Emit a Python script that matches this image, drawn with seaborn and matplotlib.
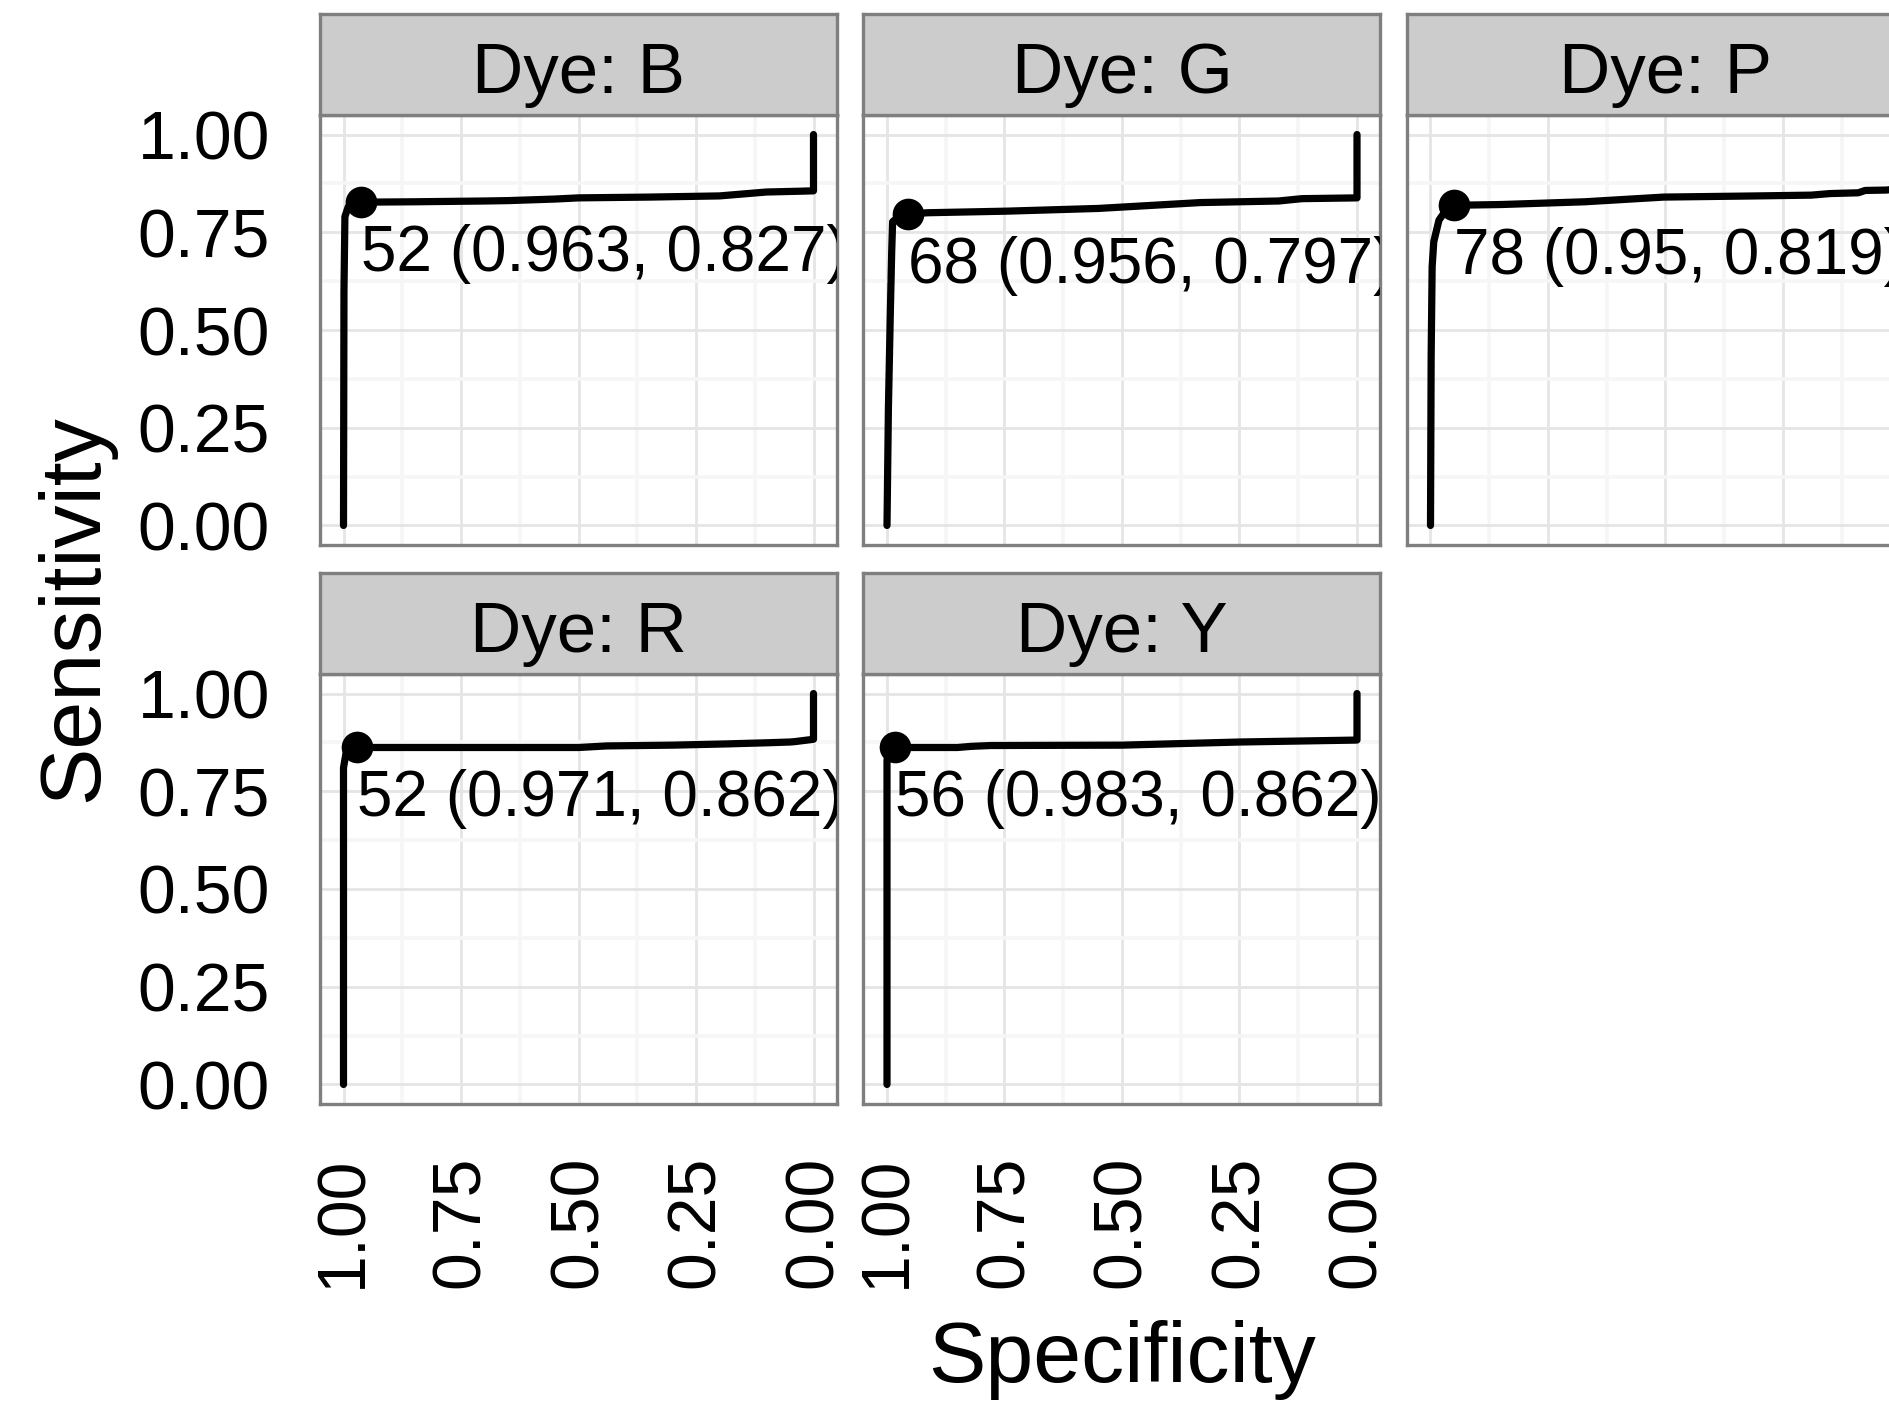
import numpy as np
import pandas as pd
import matplotlib
matplotlib.use("Agg")
import matplotlib.pyplot as plt
import matplotlib.transforms as mtransforms
from matplotlib.ticker import FixedLocator
import seaborn as sns

# ---------------- data ----------------
dyes = ["B", "G", "P", "R", "Y"]

spec_B = [1.0, 0.999, 0.997, 0.99, 0.98, 0.963, 0.85, 0.70, 0.65, 0.55, 0.50, 0.35, 0.20, 0.13, 0.10, 0.03, 0.0, 0.0]
sens_B = [0.0, 0.60, 0.79, 0.815, 0.823, 0.827, 0.828, 0.830, 0.831, 0.835, 0.838, 0.840, 0.843, 0.850, 0.853, 0.855, 0.856, 1.0]

spec_G = [1.0, 0.997, 0.993, 0.99, 0.988, 0.975, 0.956, 0.912, 0.746, 0.55, 0.521, 0.333, 0.167, 0.117, 0.0, 0.0]
sens_G = [0.0, 0.30, 0.54, 0.70, 0.777, 0.790, 0.797, 0.800, 0.804, 0.811, 0.813, 0.826, 0.830, 0.836, 0.838, 1.0]

spec_P = [1.0, 0.9986, 0.9965, 0.993, 0.982, 0.965, 0.95, 0.849, 0.672, 0.504, 0.306, 0.19, 0.15, 0.09, 0.075, 0.03, 0.0, 0.0]
sens_P = [0.0, 0.434, 0.662, 0.726, 0.781, 0.810, 0.819, 0.821, 0.828, 0.840, 0.843, 0.845, 0.849, 0.851, 0.857, 0.858, 0.862, 1.0]

spec_R = [1.0, 1.0, 0.995, 0.985, 0.971, 0.80, 0.50, 0.47, 0.44, 0.30, 0.19, 0.10, 0.05, 0.04, 0.02, 0.0, 0.0]
sens_R = [0.0, 0.81, 0.845, 0.856, 0.862, 0.862, 0.862, 0.864, 0.866, 0.868, 0.871, 0.874, 0.876, 0.877, 0.880, 0.883, 1.0]

spec_Y = [1.0, 1.0, 0.993, 0.983, 0.85, 0.82, 0.78, 0.50, 0.25, 0.10, 0.0, 0.0]
sens_Y = [0.0, 0.83, 0.855, 0.862, 0.862, 0.865, 0.867, 0.868, 0.876, 0.879, 0.881, 1.0]

best_threshold = [52, 68, 78, 52, 56]
best_spec = [0.963, 0.956, 0.95, 0.971, 0.983]
best_sens = [0.827, 0.797, 0.819, 0.862, 0.862]

tick_values = [0.0, 0.25, 0.5, 0.75, 1.0]
tick_labels = ["0.00", "0.25", "0.50", "0.75", "1.00"]

curves = {
    "B": (spec_B, sens_B), "G": (spec_G, sens_G), "P": (spec_P, sens_P),
    "R": (spec_R, sens_R), "Y": (spec_Y, sens_Y),
}
roc_df = pd.concat(
    [pd.DataFrame({"Dye": d, "Specificity": curves[d][0], "Sensitivity": curves[d][1]})
     for d in dyes],
    ignore_index=True)
best_df = pd.DataFrame({"Dye": dyes, "threshold": best_threshold,
                        "Specificity": best_spec, "Sensitivity": best_sens})

# ---------------- style ----------------
sns.set_style("white")
plt.rcParams["font.family"] = ["Liberation Sans", "DejaVu Sans"]

W, H = 1890, 1403
DPI = 100
fig = plt.figure(figsize=(W / DPI, H / DPI), dpi=DPI)

col_left = [320, 863.5, 1407]
panel_w = 517
row_top = [115, 674]
panel_h = 430
strip_h = 101

TICK_FS = 49
STRIP_FS = 51
ANNOT_FS = 46
TITLE_FS = 62
GRID_MAJ = "#E5E5E5"
GRID_MIN = "#F6F6F6"
BORDER = "#7F7F7F"


def fig_rect(x0, y0_top, w, h):
    return [x0 / W, 1 - (y0_top + h) / H, w / W, h / H]


for i, d in enumerate(dyes):
    r, c = divmod(i, 3)
    x0 = col_left[c]
    y0 = row_top[r]
    ax = fig.add_axes(fig_rect(x0, y0, panel_w, panel_h))
    sub = roc_df[roc_df["Dye"] == d]
    sns.lineplot(data=sub, x="Specificity", y="Sensitivity", sort=False, estimator=None,
                 color="black", linewidth=5.2, ax=ax, legend=False,
                 solid_capstyle="round", solid_joinstyle="round", zorder=3)
    bsub = best_df[best_df["Dye"] == d]
    sns.scatterplot(data=bsub, x="Specificity", y="Sensitivity", color="black", s=520,
                    linewidth=0, ax=ax, legend=False, zorder=4)
    row = bsub.iloc[0]
    label = f"{row['threshold']} ({row['Specificity']:g}, {row['Sensitivity']:g})"
    off = mtransforms.offset_copy(ax.transData, fig=fig, x=0, y=-22, units="dots")
    ax.text(row["Specificity"], row["Sensitivity"], label, transform=off,
            ha="left", va="top", fontsize=ANNOT_FS, color="black", clip_on=True, zorder=5)

    ax.set_xlim(1.05, -0.05)
    ax.set_ylim(-0.05, 1.05)
    ax.xaxis.set_major_locator(FixedLocator(tick_values))
    ax.yaxis.set_major_locator(FixedLocator(tick_values))
    ax.xaxis.set_minor_locator(FixedLocator([0.125, 0.375, 0.625, 0.875]))
    ax.yaxis.set_minor_locator(FixedLocator([0.125, 0.375, 0.625, 0.875]))
    ax.set_xticklabels(tick_labels, rotation=90)
    ax.set_yticklabels(tick_labels)
    ax.grid(True, which="major", color=GRID_MAJ, lw=2.0, zorder=0)
    ax.grid(True, which="minor", color=GRID_MIN, lw=2.6, zorder=0)
    ax.set_axisbelow(True)
    ax.set_xlabel("")
    ax.set_ylabel("")
    for sp in ax.spines.values():
        sp.set_color(BORDER)
        sp.set_linewidth(2.4)
        sp.set_visible(True)
    ax.tick_params(axis="both", which="major", length=21, width=3.6, color="black",
                   labelsize=TICK_FS, labelcolor="black")
    ax.tick_params(axis="x", pad=16)
    ax.tick_params(axis="y", pad=15)
    ax.tick_params(axis="both", which="minor", length=0)
    if c != 0:
        ax.tick_params(axis="y", left=False, labelleft=False)
    if r == 0:
        ax.tick_params(axis="x", bottom=False, labelbottom=False)

    # strip
    sax = fig.add_axes(fig_rect(x0, y0 - strip_h, panel_w, strip_h))
    sax.set_facecolor("#CCCCCC")
    sax.set_xticks([])
    sax.set_yticks([])
    for sp in sax.spines.values():
        sp.set_color(BORDER)
        sp.set_linewidth(2.4)
    sax.text(0.5, 0.22, f"Dye: {d}", ha="center", va="baseline", fontsize=STRIP_FS,
             color="black", transform=sax.transAxes)

fig.text(97 / W, 1 - 608 / H, "Sensitivity", rotation=90, rotation_mode="anchor",
         ha="center", va="baseline", fontsize=TITLE_FS, color="black")
fig.text(1122 / W, 1 - 1382 / H, "Specificity", ha="center", va="baseline",
         fontsize=TITLE_FS, color="black")

fig.savefig("out.png", dpi=DPI, facecolor="white")
